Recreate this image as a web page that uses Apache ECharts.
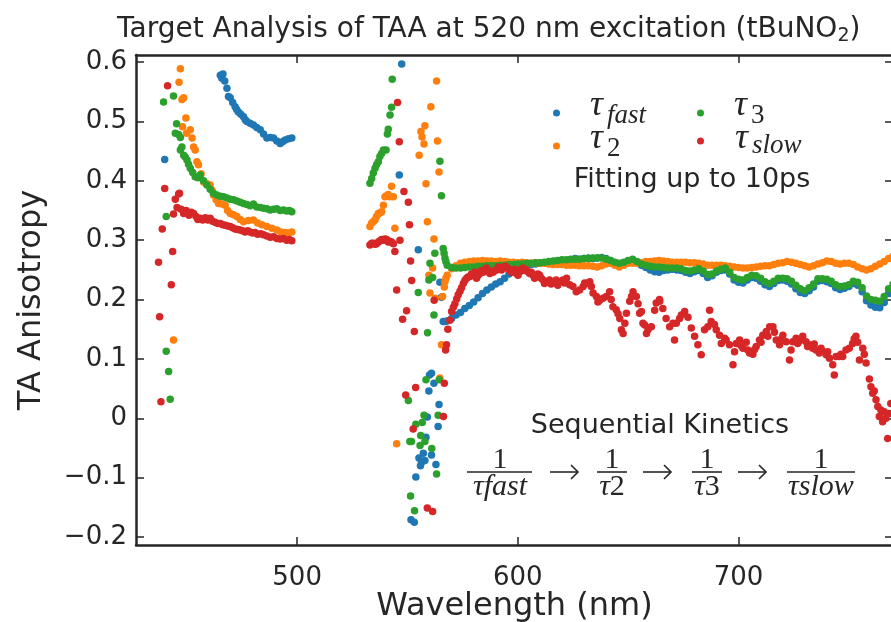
<!DOCTYPE html>
<html lang="en">
<head>
<meta charset="UTF-8">
<title>Target Analysis of TAA at 520 nm excitation</title>
<script src="https://cdn.jsdelivr.net/npm/echarts@6.0.0/dist/echarts.min.js"></script>
<style>
  html, body { margin: 0; padding: 0; background: #fff; }
  #chart { width: 891px; height: 622px; }
</style>
</head>
<body>
<div id="chart"></div>
<script>
// axis extents and ticks
const xRange = [427, 770];
const yRange = [-0.2135, 0.612];
const xTicks = [500, 600, 700];
const yTicks = [-0.2, -0.1, 0, 0.1, 0.2, 0.3, 0.4, 0.5, 0.6];

// scattered points below 570 nm, [wavelength, anisotropy]
const fastScatter = [
  [440.0,0.436],[465.2,0.578],[465.9,0.573],[466.4,0.580],[467.2,0.568],[468.2,0.556],[468.9,0.542],[469.7,0.540],
  [470.8,0.532],[471.9,0.525],[472.6,0.520],[473.4,0.516],[474.5,0.512],[475.7,0.508],[476.5,0.503],[477.2,0.500],
  [478.7,0.497],[480.2,0.494],[481.7,0.490],[483.3,0.486],[484.8,0.479],[486.3,0.472],[487.8,0.473],[489.3,0.472],
  [490.8,0.467],[492.3,0.463],[493.4,0.466],[494.6,0.469],[496.1,0.471],[497.6,0.472],
  [547.4,0.597],[546.3,0.410],[554.9,0.284],[564.7,0.229],[565.4,0.204],[560.9,0.076],[560.0,0.073],[562.0,0.059],
  [559.7,0.046],[564.3,0.023],[559.0,0.002],[563.9,-0.014],[558.4,-0.032],[557.2,-0.059],[560.9,-0.062],[555.2,-0.067],
  [556.4,-0.074],[557.9,-0.071],[562.9,-0.078],[555.9,-0.080],[553.8,-0.099],[551.6,-0.171],[553.1,-0.175],
  [566.2,0.163],[567.0,0.163]
];
const twoScatter = [
  [444.0,0.132],[446.5,0.566],[447.1,0.589],[447.8,0.537],[448.6,0.540],[448.1,0.491],[449.6,0.506],[449.9,0.480],
  [451.6,0.486],[452.4,0.472],[453.1,0.457],[453.8,0.452],[454.6,0.432],[455.3,0.427],[456.5,0.412],[457.6,0.398],
  [459.1,0.395],[460.6,0.393],[461.4,0.384],[462.1,0.376],[463.3,0.368],[464.4,0.362],[465.9,0.361],[467.4,0.359],
  [468.5,0.350],[469.7,0.345],[471.2,0.343],[472.7,0.340],[474.2,0.335],[475.7,0.331],[477.9,0.333],[480.2,0.334],
  [482.1,0.329],[484.0,0.326],[486.3,0.323],[488.5,0.320],[490.8,0.317],[492.7,0.314],[494.6,0.313],[496.1,0.312],
  [497.6,0.314],
  [533.0,0.323],[533.8,0.329],[534.5,0.331],[535.3,0.334],[536.0,0.340],[536.8,0.345],[537.5,0.346],[538.3,0.348],
  [539.1,0.359],[539.8,0.373],[540.6,0.375],[541.3,0.377],[542.1,0.373],[542.8,0.391],[543.6,0.373],[544.3,0.320],
  [545.1,-0.043],[563.2,0.568],[560.6,0.525],[557.9,0.493],[556.1,0.483],[556.6,0.474],[557.5,0.462],[563.6,0.467],
  [555.3,0.443],[564.3,0.415],[558.4,0.395],[559.0,0.331],[562.0,0.302],[561.4,0.253],[559.7,0.241],[566.7,0.221],
  [560.2,0.211],[562.6,0.202],[565.9,0.205],[565.4,0.124],[564.7,0.068],[567.0,0.230],[567.4,0.236]
];
const threeScatter = [
  [439.5,0.533],[440.7,0.340],[440.7,0.113],[441.8,0.079],[442.5,0.032],[444.0,0.543],[445.4,0.496],[444.8,0.480],
  [446.3,0.478],[447.1,0.473],[447.8,0.457],[447.1,0.452],[448.6,0.443],[449.3,0.440],[450.1,0.435],[450.8,0.428],
  [451.6,0.421],[452.7,0.414],[453.8,0.407],[455.0,0.405],[456.1,0.410],[457.6,0.400],[459.1,0.393],[460.6,0.386],
  [462.1,0.379],[463.6,0.376],[465.2,0.374],[466.7,0.373],[468.2,0.371],[469.7,0.369],[471.2,0.368],[472.7,0.366],
  [474.2,0.364],[475.7,0.362],[477.2,0.360],[478.7,0.358],[480.2,0.361],[481.7,0.356],[483.3,0.355],[484.8,0.354],
  [486.3,0.353],[487.8,0.351],[489.3,0.352],[490.8,0.353],[492.3,0.350],[493.8,0.351],[495.3,0.349],[496.5,0.350],
  [497.6,0.348],
  [533.0,0.396],[533.8,0.404],[534.5,0.413],[535.3,0.421],[536.0,0.427],[536.8,0.432],[537.5,0.441],[538.3,0.446],
  [539.1,0.452],[540.3,0.452],[540.9,0.479],[541.3,0.487],[542.1,0.511],[542.8,0.524],[543.1,0.571],[564.7,0.433],
  [565.4,0.375],[562.4,0.278],[560.2,0.261],[559.7,0.233],[561.4,0.237],[554.9,0.212],[562.0,0.174],[559.1,0.144],
  [558.4,0.065],[564.4,0.065],[550.4,0.030],[557.5,0.005],[553.8,-0.010],[556.7,-0.007],[563.9,0.005],[551.1,-0.039],
  [551.8,-0.039],[556.0,-0.029],[557.9,-0.039],[555.7,-0.046],[561.0,-0.051],[563.2,-0.094],[551.4,-0.131],
  [553.2,-0.156],[566.2,0.286],[566.6,0.278],[567.0,0.270],[567.4,0.264]
];
const slowScatter = [
  [437.2,0.263],[437.7,0.171],[438.3,0.028],[438.9,0.319],[440.0,0.387],[441.3,0.560],[443.0,0.225],[443.6,0.281],
  [444.0,0.344],[444.8,0.369],[445.6,0.355],[446.3,0.378],[446.7,0.379],[447.4,0.352],[448.6,0.345],[449.7,0.350],
  [451.0,0.342],[452.0,0.347],[453.1,0.345],[454.2,0.340],[455.0,0.335],[456.1,0.337],[457.2,0.334],[458.4,0.338],
  [459.5,0.334],[460.6,0.337],[461.7,0.332],[463.0,0.330],[464.1,0.328],[465.2,0.328],[466.3,0.326],[467.4,0.325],
  [468.6,0.324],[469.7,0.323],[470.8,0.321],[471.9,0.319],[473.1,0.318],[474.2,0.317],[475.3,0.316],[476.4,0.314],
  [477.6,0.316],[478.7,0.314],[479.8,0.312],[480.9,0.313],[482.1,0.310],[483.6,0.311],[484.8,0.309],[486.3,0.307],
  [487.8,0.305],[489.3,0.306],[490.8,0.303],[492.3,0.302],[493.8,0.303],[495.3,0.300],[496.5,0.301],[497.6,0.299],
  [533.0,0.292],[533.8,0.295],[534.5,0.295],[535.3,0.293],[536.0,0.294],[536.8,0.297],[537.6,0.299],[538.3,0.301],
  [539.1,0.300],[539.8,0.302],[540.6,0.301],[541.3,0.297],[542.1,0.298],[542.8,0.297],[543.6,0.294],[544.3,0.281],
  [545.1,0.216],[545.5,0.532],[546.3,0.466],[546.6,0.300],[547.8,0.167],[548.4,0.382],[549.2,0.039],[549.6,0.181],
  [550.4,0.364],[550.9,0.326],[551.4,0.265],[551.9,0.232],[552.6,-0.018],[553.1,0.146],[553.7,0.052],[559.0,-0.151],
  [561.4,-0.157],[562.1,0.199],[566.3,0.003],[566.7,0.059],[567.3,0.115],[567.7,0.124]
];

// the slow component above 568 nm, noisy, [wavelength, anisotropy]
const slowTail = [
  [568.3,0.150],[569.2,0.165],[570.0,0.180],[570.8,0.187],[571.5,0.193],[572.3,0.201],[573.0,0.208],[573.8,0.214],
  [574.5,0.220],[575.3,0.227],[576.0,0.232],[576.8,0.236],[577.5,0.238],[578.3,0.239],[579.0,0.243],[579.8,0.241],
  [580.5,0.246],[581.3,0.236],[582.0,0.241],[582.8,0.244],[583.5,0.249],[584.3,0.246],[585.0,0.250],[585.8,0.253],
  [586.5,0.249],[587.3,0.244],[588.0,0.247],[588.8,0.246],[589.5,0.249],[590.4,0.250],[591.1,0.255],[591.9,0.253],
  [592.6,0.250],[593.4,0.253],[594.1,0.256],[594.9,0.255],[595.6,0.252],[596.4,0.250],[597.1,0.246],[597.9,0.247],
  [598.6,0.251],[599.4,0.244],[600.1,0.241],[600.9,0.247],[601.6,0.251],[602.4,0.253],[603.1,0.249],[603.9,0.250],
  [604.6,0.247],[605.4,0.244],[606.1,0.246],[606.9,0.241],[607.6,0.236],[608.4,0.239],[609.1,0.243],[609.9,0.241],
  [610.6,0.236],[611.4,0.233],[612.1,0.227],[612.9,0.230],[614.4,0.233],[615.1,0.226],[615.9,0.230],[617.4,0.233],
  [618.1,0.224],[618.9,0.230],[620.4,0.233],[621.2,0.228],[622.1,0.236],[623.5,0.225],[625.0,0.222],[626.5,0.213],
  [628.0,0.216],[629.6,0.222],[630.3,0.228],[631.1,0.227],[632.6,0.230],[633.3,0.222],[634.1,0.211],[635.6,0.205],
  [636.3,0.196],[637.1,0.199],[638.6,0.202],[640.1,0.205],[641.6,0.213],[642.3,0.200],[643.1,0.188],[644.6,0.183],
  [645.4,0.176],[646.2,0.168],[646.9,0.149],[647.7,0.143],[648.5,0.160],[649.2,0.177],[650.7,0.197],[651.5,0.205],
  [652.2,0.213],[653.7,0.205],[654.5,0.193],[655.2,0.177],[656.0,0.180],[656.7,0.160],[657.5,0.157],[658.3,0.143],
  [659.0,0.149],[660.5,0.154],[662.0,0.182],[662.7,0.194],[664.2,0.200],[664.3,0.197],[665.7,0.185],[667.2,0.168],
  [668.8,0.154],[670.3,0.160],[671.0,0.132],[671.8,0.160],[673.3,0.168],[674.1,0.174],[675.6,0.180],[677.1,0.170],
  [678.6,0.152],[680.1,0.138],[681.6,0.124],[683.1,0.107],[684.6,0.149],[686.1,0.154],[686.9,0.182],[687.6,0.163],
  [689.1,0.158],[689.9,0.149],[691.4,0.140],[692.2,0.126],[693.7,0.135],[694.4,0.132],[695.9,0.124],[697.5,0.090],
  [698.2,0.112],[699.0,0.126],[700.5,0.132],[701.2,0.122],[702.0,0.118],[703.5,0.128],[704.2,0.115],[705.0,0.110],
  [706.5,0.108],[707.3,0.116],[708.0,0.121],[709.5,0.132],[710.2,0.128],[711.0,0.140],[712.6,0.146],[713.3,0.138],
  [714.1,0.154],[715.6,0.154],[716.3,0.145],[717.1,0.132],[718.6,0.124],[719.3,0.133],[720.1,0.140],[721.6,0.129],
  [723.1,0.098],[723.8,0.115],[724.6,0.129],[726.1,0.135],[726.8,0.126],[727.6,0.130],[729.1,0.138],[730.6,0.129],
  [731.3,0.121],[732.1,0.124],[733.6,0.118],[734.3,0.125],[735.1,0.115],[736.6,0.110],[737.4,0.118],[738.2,0.113],
  [739.7,0.107],[740.4,0.112],[741.2,0.101],[742.7,0.090],[743.4,0.073],[744.2,0.104],[745.7,0.104],[746.4,0.108],
  [747.2,0.104],[748.7,0.115],[750.2,0.118],[751.7,0.126],[752.4,0.134],[753.2,0.138],[754.0,0.128],[754.8,0.098],
  [756.3,0.118],[757.0,0.108],[757.8,0.093],[759.3,0.066],[760.0,0.053],[760.8,0.042],[761.5,0.046],[762.3,0.031],
  [763.1,0.020],[763.8,0.003],[764.5,0.014],[765.3,-0.006],[766.0,0.011],[766.8,0.000],[767.6,-0.034],[768.3,0.008],
  [769.0,0.025]
];

// smooth bands above 568 nm, one value per wavelength in wlBand
const wlBand = [
  568,570,572,574,576,578,580,582,584,586, 588,590,592,594,596,598,600,602,604,606,
  608,610,612,614,616,618,620,622,624,626, 628,630,632,634,636,638,640,642,644,646,
  648,650,652,654,656,658,660,662,664,666, 668,670,672,674,676,678,680,682,684,686,
  688,690,692,694,696,698,700,702,704,706, 708,710,712,714,716,718,720,722,724,726,
  728,730,732,734,736,738,740,742,744,746, 748,750,752,754,756,758,760,762,764,766,
  768,770
];
const fastBand = [
  0.164,0.168,0.174,0.178,0.185,0.190,0.196,0.203,0.210,0.216, 0.221,0.226,0.230,0.236,0.243,0.249,0.254,0.256,0.258,0.259,
  0.260,0.261,0.262,0.263,0.264,0.265,0.266,0.266,0.267,0.269, 0.268,0.269,0.270,0.269,0.270,0.271,0.269,0.266,0.262,0.259,
  0.262,0.265,0.267,0.263,0.258,0.254,0.250,0.247,0.246,0.249, 0.250,0.251,0.250,0.249,0.246,0.244,0.247,0.249,0.244,0.237,
  0.240,0.246,0.249,0.250,0.243,0.233,0.229,0.228,0.233,0.237, 0.236,0.231,0.225,0.222,0.227,0.232,0.233,0.231,0.226,0.218,
  0.212,0.210,0.215,0.221,0.231,0.232,0.230,0.227,0.220,0.217, 0.219,0.222,0.227,0.224,0.213,0.198,0.191,0.187,0.186,0.195,
  0.210,0.220
];
const twoBand = [
  0.241,0.252,0.257,0.261,0.263,0.264,0.265,0.265,0.266,0.265, 0.265,0.264,0.265,0.264,0.263,0.263,0.262,0.263,0.262,0.261,
  0.262,0.261,0.261,0.260,0.259,0.259,0.259,0.258,0.258,0.258, 0.257,0.257,0.257,0.256,0.255,0.257,0.260,0.261,0.258,0.255,
  0.258,0.261,0.261,0.261,0.262,0.264,0.264,0.265,0.266,0.265, 0.264,0.263,0.263,0.263,0.263,0.262,0.262,0.261,0.260,0.258,
  0.258,0.258,0.258,0.257,0.256,0.255,0.254,0.253,0.253,0.254, 0.255,0.256,0.257,0.257,0.259,0.261,0.262,0.264,0.263,0.261,
  0.259,0.257,0.255,0.257,0.260,0.262,0.265,0.264,0.261,0.260, 0.261,0.261,0.259,0.255,0.252,0.250,0.252,0.256,0.260,0.264,
  0.269,0.273
];
const threeBand = [
  0.258,0.254,0.253,0.253,0.254,0.255,0.255,0.256,0.256,0.257, 0.257,0.257,0.258,0.258,0.259,0.259,0.260,0.260,0.261,0.261,
  0.262,0.262,0.263,0.264,0.265,0.266,0.267,0.267,0.268,0.268, 0.268,0.269,0.269,0.270,0.270,0.270,0.268,0.266,0.263,0.261,
  0.263,0.266,0.268,0.264,0.260,0.258,0.256,0.255,0.255,0.254, 0.253,0.253,0.253,0.252,0.249,0.248,0.250,0.252,0.248,0.242,
  0.243,0.248,0.251,0.253,0.246,0.237,0.234,0.233,0.237,0.241, 0.240,0.236,0.230,0.227,0.231,0.236,0.236,0.235,0.231,0.224,
  0.218,0.215,0.220,0.226,0.235,0.235,0.234,0.231,0.225,0.222, 0.223,0.225,0.231,0.229,0.220,0.206,0.200,0.199,0.197,0.205,
  0.218,0.226
];

const seriesNames = ['fast', '2', '3', 'slow'];
const seriesColors = ['#1f77b4', '#ff7f0e', '#2ca02c', '#d62728'];

const withBand = (vals) => wlBand.map((w, i) => [w, vals[i]]);
const seriesData = [
  fastScatter.concat(withBand(fastBand)),
  twoScatter.concat(withBand(twoBand)),
  threeScatter.concat(withBand(threeBand)),
  slowScatter.concat(slowTail)
];

const ink = '#262626';
const sans = "'DejaVu Sans', sans-serif";
const serifFont = "'Liberation Serif'";

const chart = echarts.init(document.getElementById('chart'), null, { renderer: 'canvas' });

const fmtY = v => v === 0 ? '0' : (v < 0 ? '\u2212' : '') + Math.abs(v).toFixed(1);

function xAxisDef(pos) {
  const bottom = pos === 'bottom';
  return {
    type: 'value', position: pos, min: xRange[0], max: xRange[1],
    axisLine: { show: true, onZero: false, lineStyle: { color: ink, width: 2.5 } },
    axisTick: { show: true, inside: true, length: 8, customValues: xTicks, lineStyle: { color: ink, width: 1.5 } },
    axisLabel: { show: bottom, customValues: xTicks, fontSize: 26, color: ink, fontFamily: sans, margin: 20 },
    splitLine: { show: false },
    name: bottom ? 'Wavelength (nm)' : '', nameLocation: 'middle', nameGap: 46, nameMoveOverlap: false,
    nameTextStyle: { fontSize: 32, color: ink, fontFamily: sans }
  };
}
function yAxisDef(pos) {
  const left = pos === 'left';
  return {
    type: 'value', position: pos, min: yRange[0], max: yRange[1],
    axisLine: { show: true, onZero: false, lineStyle: { color: ink, width: 2.5 } },
    axisTick: { show: true, inside: true, length: 8, customValues: yTicks, lineStyle: { color: ink, width: 1.5 } },
    axisLabel: { show: left, customValues: yTicks, formatter: fmtY, fontSize: 26, color: ink, fontFamily: sans, margin: 9 },
    splitLine: { show: false },
    name: left ? 'TA Anisotropy' : '', nameLocation: 'middle', nameGap: 88, nameMoveOverlap: false,
    nameTextStyle: { fontSize: 32, color: ink, fontFamily: sans }
  };
}

// legend: markers from the legend component, tau labels drawn beside them
function legendDef(names, left, gap) {
  return {
    data: names, orient: 'vertical', left: left, top: 101, itemGap: gap,
    icon: 'circle', itemWidth: 7, itemHeight: 7,
    formatter: () => ' ', textStyle: { fontSize: 12, lineHeight: 14 }
  };
}
const legendLabels = [
  { x: 590, y: 118, sub: 'fast', italic: true, subY: 125 },
  { x: 590, y: 151, sub: '2', italic: false, subY: 158 },
  { x: 734, y: 118, sub: '3', italic: false, subY: 125 },
  { x: 735, y: 151, sub: 'slow', italic: true, subY: 155 }
];

// fraction annotation 1/tau_fast -> 1/tau_2 -> 1/tau_3 -> 1/tau_slow
const fracs = [
  { cx: 500, x1: 467, x2: 532, den: '{i|\u03c4fast}' },
  { cx: 612, x1: 597, x2: 627, den: '{i|\u03c4}{n|2}' },
  { cx: 707, x1: 692, x2: 722, den: '{i|\u03c4}{n|3}' },
  { cx: 821, x1: 787, x2: 855, den: '{i|\u03c4slow}' }
];
const arrowX = [564, 657, 752];
const fracRich = {
  i: { fontFamily: serifFont, fontStyle: 'italic', fontSize: 30, fill: ink },
  n: { fontFamily: serifFont, fontSize: 30, fill: ink }
};

const graphics = [
  { type: 'text', x: 692, y: 180, style: { text: 'Fitting up to 10ps', font: "27px 'DejaVu Sans'", fill: ink, textAlign: 'center', textVerticalAlign: 'middle' } },
  { type: 'text', x: 660, y: 426, style: { text: 'Sequential Kinetics', font: "27px 'DejaVu Sans'", fill: ink, textAlign: 'center', textVerticalAlign: 'middle' } }
];
legendLabels.forEach(l => {
  // middle of the em box sits ~0.34em above the baseline
  graphics.push({ type: 'text', x: l.x, y: l.y - 12, style: { text: '\u03c4', font: "italic 36px 'Liberation Serif'", fill: ink, textAlign: 'left', textVerticalAlign: 'middle' } });
  graphics.push({ type: 'text', x: l.x + 17, y: l.subY - 9, style: { text: l.sub, font: (l.italic ? 'italic ' : '') + "27px 'Liberation Serif'", fill: ink, textAlign: 'left', textVerticalAlign: 'middle' } });
});
fracs.forEach(f => {
  graphics.push({ type: 'text', x: f.cx, y: 460, style: { text: '1', font: "30px 'Liberation Serif'", fill: ink, textAlign: 'center', textVerticalAlign: 'middle' } });
  graphics.push({ type: 'line', shape: { x1: f.x1, y1: 472, x2: f.x2, y2: 472 }, style: { stroke: ink, lineWidth: 1.6 } });
  graphics.push({ type: 'text', x: f.cx, y: 487, style: { text: f.den, rich: fracRich, fill: ink, textAlign: 'center', textVerticalAlign: 'middle' } });
});
arrowX.forEach(x => {
  graphics.push({ type: 'line', shape: { x1: x - 14, y1: 472, x2: x + 13, y2: 472 }, style: { stroke: ink, lineWidth: 1.6 } });
  graphics.push({ type: 'polyline', shape: { points: [[x + 7, 465], [x + 14, 472], [x + 7, 479]] }, style: { stroke: ink, lineWidth: 1.6, fill: null } });
});

const option = {
  animation: false,
  backgroundColor: '#ffffff',
  title: {
    text: 'Target Analysis of TAA at 520 nm excitation (tBuNO{sub|2})',
    left: 112, top: 8,
    textStyle: {
      fontFamily: sans, fontSize: 28, fontWeight: 'normal', color: ink,
      rich: { sub: { fontFamily: sans, fontSize: 19, color: ink, padding: [14, 0, 0, 0] } }
    }
  },
  grid: { left: 136, right: -2, top: 55, bottom: 77, containLabel: false, outerBoundsMode: 'none' },
  xAxis: [xAxisDef('bottom'), xAxisDef('top')],
  yAxis: [yAxisDef('left'), yAxisDef('right')],
  legend: [legendDef(['fast', '2'], 548, 19), legendDef(['3', 'slow'], 692, 14)],
  graphic: graphics,
  series: seriesNames.map((name, i) => ({
    name: name, type: 'scatter', xAxisIndex: 0, yAxisIndex: 0,
    symbolSize: 7.5, clip: true,
    itemStyle: { color: seriesColors[i], opacity: 1 },
    data: seriesData[i]
  }))
};

chart.setOption(option);
</script>
</body>
</html>
